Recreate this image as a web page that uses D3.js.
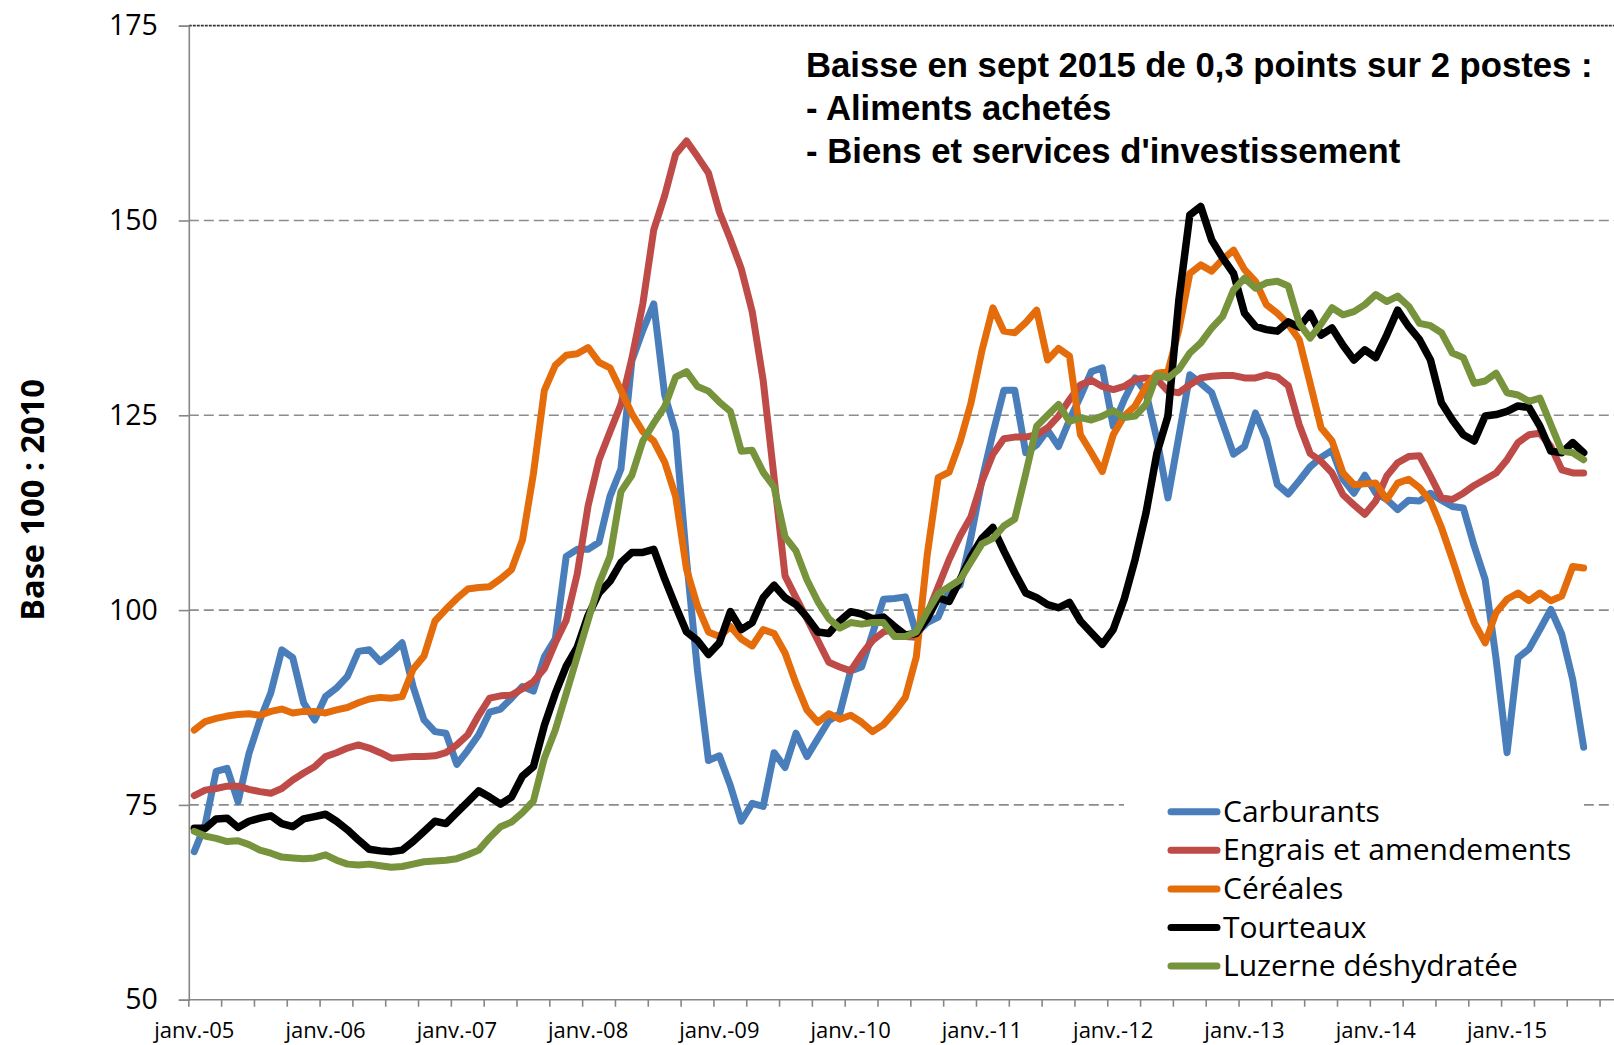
<!DOCTYPE html>
<html>
<head>
<meta charset="utf-8">
<script src="https://cdn.jsdelivr.net/npm/d3@7"></script>
<style>
  body { margin: 0; background: #fff; }
  svg { display: block; }
</style>
</head>
<body>
<div id="chart"></div>
<script>
// monthly index, Base 100 : 2010, janv. 2005 -> août 2015
const carburants = [69.0,72.5,79.3,79.7,75.4,81.6,85.9,89.4,94.9,93.9,88.1,85.9,
  88.9,90.0,91.5,94.7,94.9,93.4,94.5,95.8,90.2,85.9,84.4,84.2,
  80.2,82.0,84.0,86.9,87.3,88.7,90.2,89.6,94.0,96.3,106.9,107.8,
  107.8,108.7,114.6,118.1,132.0,135.9,139.3,127.6,122.9,106.4,92.2,80.7,
  81.3,77.5,72.9,75.2,74.8,81.7,79.8,84.2,81.2,83.5,85.8,86.7,
  92.2,92.7,97.0,101.4,101.5,101.7,97.0,98.4,99.1,102.5,103.2,109.4,
  116.7,122.7,128.2,128.2,120.2,121.2,123.1,121.0,124.4,127.4,130.6,131.1,
  123.6,127.0,129.8,127.9,121.9,114.4,122.3,130.2,129.1,127.9,124.0,120.0,
  121.0,125.3,121.9,116.1,114.9,116.6,118.4,119.6,120.5,116.8,115.0,117.3,
  115.0,114.2,112.9,114.1,114.0,115.0,114.1,113.3,113.1,108.2,103.9,93.7,
  81.7,93.9,95.0,97.5,100.1,96.9,91.1,82.4]

const engrais = [76.2,76.9,77.1,77.4,77.4,77.0,76.7,76.5,77.1,78.2,79.1,79.9,
  81.2,81.7,82.3,82.7,82.3,81.7,81.0,81.1,81.2,81.2,81.3,81.7,
  82.7,84.0,86.5,88.7,89.0,89.1,89.9,90.8,92.5,95.8,98.7,104.6,
  113.4,119.3,122.9,126.4,132.3,139.3,148.8,153.2,158.5,160.2,158.2,156.1,
  151.1,147.6,143.8,138.3,129.5,117.0,104.4,101.6,98.9,96.1,93.3,92.7,
  92.2,94.3,96.1,97.2,97.5,96.6,96.5,99.5,103.0,106.5,109.5,112.0,
  116.5,120.0,122.0,122.2,122.2,122.5,123.4,124.9,127.0,128.9,129.5,128.7,
  128.3,128.7,129.6,129.8,129.6,128.1,127.9,128.9,129.8,130.0,130.1,130.1,
  129.8,129.8,130.2,129.9,128.8,123.8,120.1,119.1,117.6,114.8,113.5,112.3,
  114.0,117.2,118.9,119.7,119.8,117.2,114.4,114.2,115.0,116.0,116.8,117.6,
  119.3,121.5,122.5,122.7,121.0,118.0,117.6,117.6]

const cereales = [84.6,85.7,86.1,86.4,86.6,86.7,86.5,87.0,87.3,86.8,87.0,87.0,
  86.8,87.2,87.5,88.1,88.6,88.8,88.7,88.9,92.4,94.1,98.6,100.1,
  101.5,102.7,102.9,103.0,104.0,105.2,109.0,117.5,128.2,131.4,132.7,132.9,
  133.7,131.8,131.1,128.2,125.2,122.9,121.7,119.0,114.6,105.2,100.5,97.2,
  96.6,97.9,96.3,95.4,97.5,97.0,94.5,90.6,87.2,85.6,86.7,86.0,
  86.5,85.6,84.4,85.3,86.9,88.8,94.0,107.1,117.0,117.7,121.6,126.6,
  133.3,138.8,135.8,135.6,136.9,138.5,132.1,133.6,132.6,122.5,120.2,117.8,
  122.5,124.9,126.2,128.7,130.4,130.6,136.0,143.2,144.3,143.5,145.0,146.2,
  143.7,142.2,139.2,138.1,136.7,134.7,129.1,123.4,121.7,117.6,116.1,116.2,
  116.3,114.2,116.3,116.8,115.7,114.0,110.6,106.5,102.2,98.4,95.8,99.7,
  101.4,102.2,101.2,102.2,101.2,101.8,105.6,105.4]

const tourteaux = [72.0,72.0,73.2,73.3,72.1,72.9,73.3,73.6,72.6,72.2,73.2,73.5,
  73.8,72.9,71.8,70.5,69.3,69.1,69.0,69.2,70.3,71.6,72.9,72.6,
  74.0,75.4,76.8,76.0,75.1,76.0,78.7,79.9,85.2,89.3,92.8,95.2,
  99.3,102.2,103.7,106.1,107.4,107.4,107.8,104.0,100.5,97.2,96.1,94.3,
  95.8,99.8,97.5,98.4,101.6,103.2,101.6,100.7,99.1,97.2,97.0,98.6,
  99.8,99.5,98.9,99.1,97.9,96.8,97.0,98.9,101.6,101.1,103.9,106.9,
  109.2,110.6,107.6,104.8,102.2,101.6,100.7,100.3,101.0,98.6,97.1,95.6,
  97.5,101.4,106.5,112.5,120.2,124.9,139.8,150.7,151.8,147.5,145.2,143.2,
  138.1,136.4,136.0,135.8,137.0,136.3,138.1,135.3,136.2,134.0,132.1,133.4,
  132.4,135.3,138.5,136.4,134.7,132.1,126.6,124.4,122.5,121.7,124.9,125.1,
  125.5,126.2,126.0,123.6,120.4,120.2,121.5,120.2]

const luzerne = [71.6,71.0,70.7,70.3,70.4,69.9,69.2,68.8,68.3,68.2,68.1,68.2,
  68.6,67.9,67.4,67.3,67.4,67.2,67.0,67.1,67.4,67.7,67.8,67.9,
  68.1,68.6,69.2,70.8,72.2,72.8,74.0,75.5,81.0,84.6,89.3,94.0,
  98.7,103.4,106.9,115.2,117.3,121.7,124.0,126.1,129.9,130.6,128.7,128.1,
  126.7,125.5,120.4,120.5,117.7,115.8,109.4,107.6,103.9,101.1,98.9,97.7,
  98.4,98.2,98.4,98.4,96.6,96.6,97.2,99.8,102.1,103.0,103.9,106.2,
  108.5,109.2,110.8,111.7,117.5,123.6,125.0,126.4,124.2,124.7,124.4,124.9,
  125.6,124.7,124.9,126.4,130.2,129.8,130.9,133.0,134.3,136.2,137.7,141.1,
  142.6,141.3,142.0,142.2,141.6,136.8,134.9,136.7,138.8,137.9,138.3,139.2,
  140.5,139.6,140.3,139.0,136.8,136.5,135.6,133.0,132.4,129.1,129.4,130.4,
  127.9,127.6,126.8,127.2,123.8,120.4,120.2,119.3]

const seriesNames = ["Carburants", "Engrais et amendements", "Céréales", "Tourteaux", "Luzerne déshydratée"]
const seriesColors = ["#4a7ebb", "#be4b48", "#e46c0a", "#000000", "#77933c"]
const seriesValues = [carburants, engrais, cereales, tourteaux, luzerne]

const yearLabels = ["janv.-05", "janv.-06", "janv.-07", "janv.-08", "janv.-09", "janv.-10",
  "janv.-11", "janv.-12", "janv.-13", "janv.-14", "janv.-15"]
const yTicks = [50, 75, 100, 125, 150, 175]
const noteLines = [
  "Baisse en sept 2015 de 0,3 points sur 2 postes :",
  "- Aliments achetés",
  "- Biens et services d'investissement"
]

// dimensions
const width = 1614
const height = 1045
const plotLeft = 188.8
const plotTop = 25.7
const plotBottom = 999.7
const monthWidth = 10.94

const svg = d3.select("#chart").append("svg")
  .attr("width", width)
  .attr("height", height)
  .style("font-family", "'Open Sans', sans-serif")

svg.append("rect").attr("width", width).attr("height", height).attr("fill", "#fff")

// scales: one category per month, points in the middle of each category
const x = d3.scaleLinear()
  .domain([0, (width - plotLeft) / monthWidth])
  .range([plotLeft, width])
const y = d3.scaleLinear().domain([50, 175]).range([plotBottom, plotTop])

// gridlines
svg.append("g").selectAll("line")
  .data(yTicks.filter(d => d > 50))
  .join("line")
  .attr("x1", plotLeft).attr("x2", width)
  .attr("y1", d => y(d)).attr("y2", d => y(d))
  .attr("stroke", d => d === 175 ? "#3a3a3a" : "#8c8c8c")
  .attr("stroke-width", d => d === 175 ? 1.8 : 1.6)
  .attr("stroke-dasharray", d => d === 175 ? "3,1" : "10,5")

// y axis
const yAxis = svg.append("g")
  .attr("transform", `translate(${plotLeft},0)`)
  .call(d3.axisLeft(y).tickValues(yTicks).tickSize(10).tickPadding(21).tickFormat(d3.format("d")))
yAxis.select(".domain").attr("stroke", "#868686").attr("stroke-width", 1.6)
yAxis.selectAll(".tick line").attr("stroke", "#868686").attr("stroke-width", 1.6)
yAxis.selectAll(".tick text")
  .style("font-family", "'Open Sans', sans-serif")
  .attr("font-size", 28.5).attr("fill", "#000")

// x axis: ticks every 3 months, a label every january
const nMonths = Math.floor((width - plotLeft) / monthWidth)
const quarterTicks = d3.range(0, nMonths + 1, 3)
const xAxis = svg.append("g").attr("class", "x axis")
xAxis.append("line")
  .attr("x1", plotLeft).attr("x2", width)
  .attr("y1", plotBottom).attr("y2", plotBottom)
  .attr("stroke", "#868686").attr("stroke-width", 1.6)
xAxis.selectAll(".qtick")
  .data(quarterTicks)
  .join("line")
  .attr("class", "qtick")
  .attr("x1", d => x(d)).attr("x2", d => x(d))
  .attr("y1", plotBottom).attr("y2", plotBottom + 7)
  .attr("stroke", "#868686").attr("stroke-width", 1.6)
xAxis.selectAll("text")
  .data(yearLabels)
  .join("text")
  .attr("x", (d, i) => x(i * 12 + 0.5))
  .attr("y", 1038)
  .attr("text-anchor", "middle")
  .attr("font-size", 22)
  .text(d => d)

// y axis title
svg.append("text")
  .attr("transform", "translate(43.5,500) rotate(-90)")
  .attr("text-anchor", "middle")
  .attr("font-size", 32.5)
  .attr("font-weight", "bold")
  .text("Base 100 : 2010")

// legend box (drawn before lines so it hides only the gridline)
svg.append("rect")
  .attr("x", 1124).attr("y", 765)
  .attr("width", 460).attr("height", 225)
  .attr("fill", "#fff")

// series
const line = d3.line()
  .x((d, i) => x(i + 0.5))
  .y(d => y(d))

svg.append("g").selectAll("path")
  .data(seriesValues)
  .join("path")
  .attr("d", line)
  .attr("fill", "none")
  .attr("stroke", (d, i) => seriesColors[i])
  .attr("stroke-width", (d, i) => i === 3 ? 7.5 : 7)
  .attr("stroke-linejoin", "round")
  .attr("stroke-linecap", "round")

// legend
const legend = svg.append("g")
  .selectAll("g")
  .data(seriesNames)
  .join("g")
  .attr("transform", (d, i) => `translate(1168,${811.7 + i * 38.6})`)
legend.append("line")
  .attr("x1", 3).attr("x2", 49)
  .attr("stroke", (d, i) => seriesColors[i])
  .attr("stroke-width", 7)
  .attr("stroke-linecap", "round")
legend.append("text")
  .attr("x", 55)
  .attr("y", 10)
  .attr("font-size", 30)
  .text(d => d)

// note
svg.append("g")
  .selectAll("text")
  .data(noteLines)
  .join("text")
  .attr("x", 806)
  .attr("y", (d, i) => 77 + i * 43)
  .style("font-family", "'Liberation Sans', Arial, sans-serif")
  .attr("font-size", 34.7)
  .attr("font-weight", "bold")
  .text(d => d)
</script>
</body>
</html>
